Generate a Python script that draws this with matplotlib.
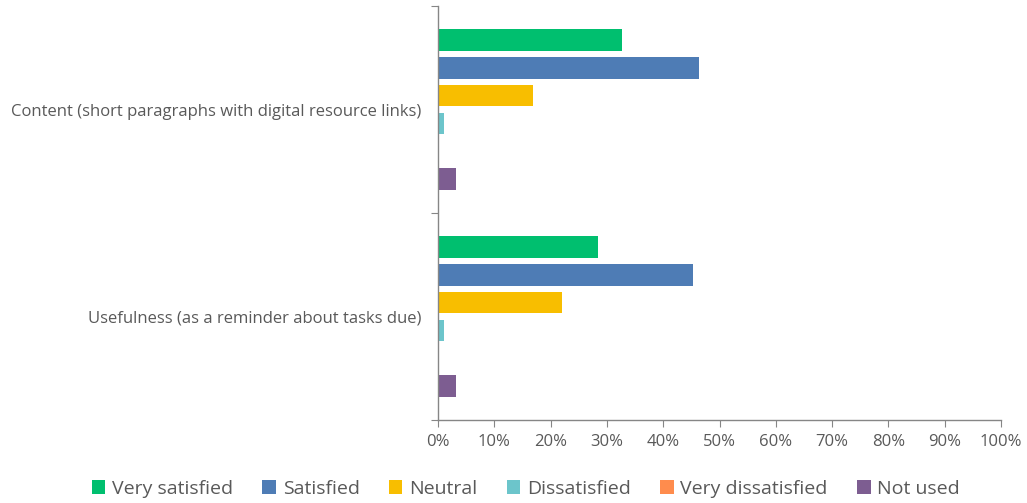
import numpy as np
import matplotlib.pyplot as plt
from matplotlib.ticker import PercentFormatter

plt.rcParams['font.family'] = ['Open Sans', 'DejaVu Sans']

categories = ["Content (short paragraphs with digital resource links)",
              "Usefulness (as a reminder about tasks due)"]
series = ["Very satisfied", "Satisfied", "Neutral", "Dissatisfied",
          "Very dissatisfied", "Not used"]
colors = ["#00BF6F", "#4E7CB5", "#F8BE00", "#6CC5CB", "#FF8C4D", "#7D5D91"]

# percent values per series, one entry per category
very_satisfied = [32.6, 28.5]
satisfied = [46.4, 45.3]
neutral = [16.9, 22.1]
dissatisfied = [1.1, 1.1]
very_dissatisfied = [0.0, 0.0]
not_used = [3.2, 3.2]
values = [very_satisfied, satisfied, neutral, dissatisfied, very_dissatisfied, not_used]

grey = "#595959"
axis_grey = "#868686"

fig = plt.figure(figsize=(10.27, 5.03), dpi=100)
ax = fig.add_axes([0.4265, 0.165, 0.5482, 0.823])

slot = 0.134
ypos = np.arange(len(categories))
for i, (name, vals, c) in enumerate(zip(series, values, colors)):
    ax.barh(ypos + (i - 2.5) * slot, vals, height=slot * 0.78, color=c,
            label=name, edgecolor='none')

ax.set_xlim(0, 100)
ax.set_ylim(1.5, -0.5)
ax.xaxis.set_major_formatter(PercentFormatter(decimals=0))
ax.set_xticks(np.arange(0, 101, 10))

# Excel style: ticks on category boundaries, labels at centres
ax.set_yticks([-0.5, 0.5, 1.5])
ax.set_yticklabels([])
ax.set_yticks(ypos, minor=True)
ax.set_yticklabels(categories, minor=True)
ax.tick_params(axis='y', which='minor', length=0, pad=12, labelsize=12, labelcolor=grey)
ax.tick_params(axis='y', which='major', length=5, color=axis_grey)
ax.tick_params(axis='x', length=5, color=axis_grey, labelsize=12, labelcolor=grey, pad=5)

for s in ['top', 'right']:
    ax.spines[s].set_visible(False)
for s in ['left', 'bottom']:
    ax.spines[s].set_color(axis_grey)
    ax.spines[s].set_linewidth(1)

leg = fig.legend(loc='lower center', bbox_to_anchor=(0.512, -0.024), ncol=6,
                 frameon=False, fontsize=14, handlelength=0.7, handleheight=0.7,
                 handletextpad=0.35, columnspacing=1.5, labelcolor=grey)

fig.savefig("out.png", dpi=100)
